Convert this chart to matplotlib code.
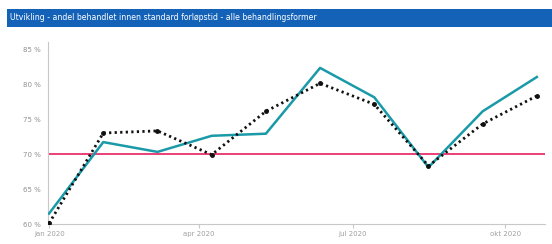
import matplotlib
matplotlib.use("Agg")
import matplotlib.pyplot as plt
import numpy as np

title = "Utvikling - andel behandlet innen standard forløpstid - alle behandlingsformer"
periods = list(range(10))
andel = [61.5, 71.7, 70.3, 72.6, 72.9, 82.3, 78.1, 68.1, 76.1, 81.0]
andel_dotted = [60.1, 73.0, 73.3, 69.9, 76.1, 80.1, 77.1, 68.3, 74.3, 78.3]
target = 70
ytick_vals = [60, 65, 70, 75, 80, 85]
xtick_labels = ["jan 2020", "apr 2020", "jul 2020", "okt 2020"]
xtick_pos = [0, 2.76, 5.6, 8.42]

fig = plt.figure(figsize=(5.52, 2.44), dpi=100)
fig.patch.set_facecolor("white")

# title bar
fig.patches.append(matplotlib.patches.Rectangle((7/552, 1-27/244), 1-7/552, 18/244,
                   transform=fig.transFigure, facecolor="#1462b8", edgecolor="none"))
fig.text(10/552, 1-18/244, title, color="white", fontsize=5.6, va="center", ha="left")

ax = fig.add_axes([48/552, 20/244, (545-48)/552, 182/244])
ax.axhline(target, color="#e8306a", lw=1.3, zorder=2)
ax.plot(periods, andel, color="#1a9aa8", lw=1.8, zorder=3)
ax.plot(periods, andel_dotted, color="#111111", lw=2.0, linestyle=(0, (0.8, 1.2)),
        marker="o", markersize=2.5, zorder=4)

ax.set_xlim(-0.02, 9.15)
ax.set_ylim(60, 86)
ax.set_yticks(ytick_vals)
ax.set_yticklabels([f"{v} %" for v in ytick_vals])
ax.set_xticks(xtick_pos)
ax.set_xticklabels(xtick_labels)
for s in ["top", "right"]:
    ax.spines[s].set_visible(False)
for s in ["left", "bottom"]:
    ax.spines[s].set_color("#c8c8c8")
    ax.spines[s].set_linewidth(0.8)
ax.tick_params(axis="y", length=0, labelsize=5, labelcolor="#909090", pad=5)
ax.tick_params(axis="x", length=3, color="#c8c8c8", labelsize=5, labelcolor="#a0a0a0", pad=2)

fig.savefig("out.png", dpi=100)
